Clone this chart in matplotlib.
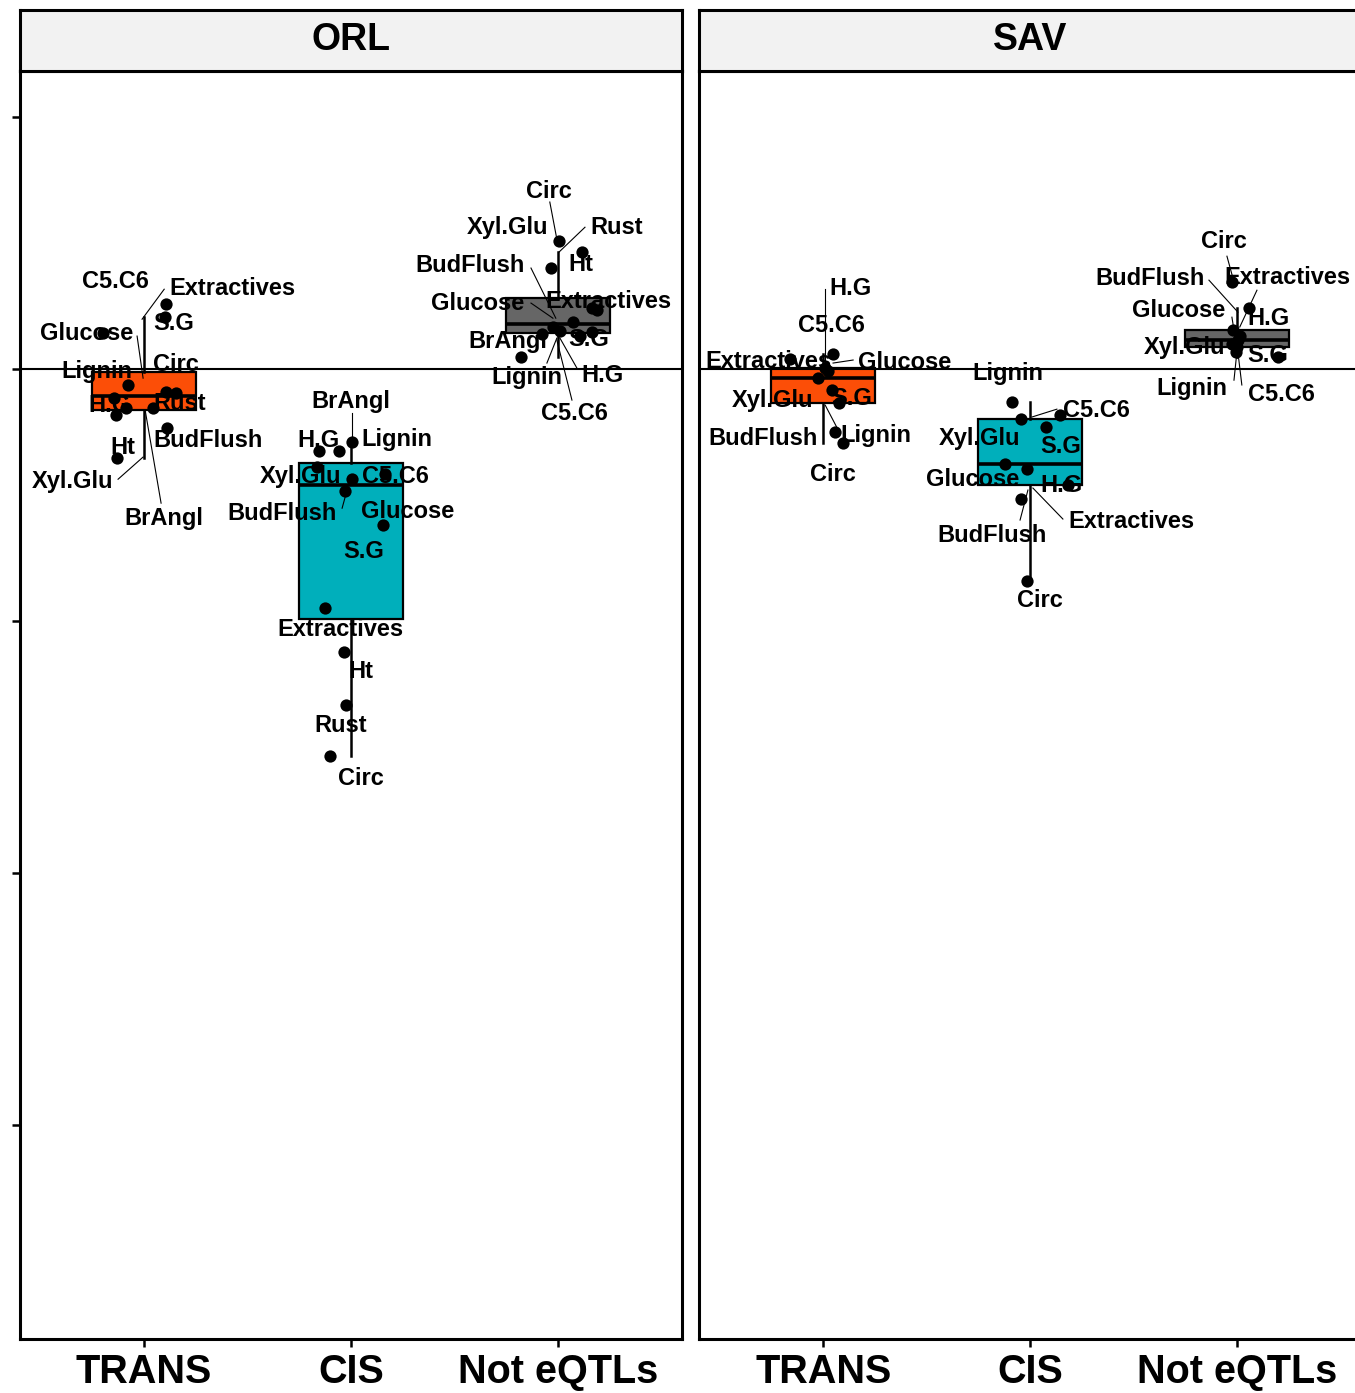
import numpy as np
import matplotlib
matplotlib.use("Agg")
import matplotlib.pyplot as plt

plt.rcParams['font.family'] = ['Liberation Sans', 'DejaVu Sans']

groups = ['TRANS', 'CIS', 'Not eQTLs']
group_colors = ['#FC4E07', '#00AFBB', '#666666']
panels = ['ORL', 'SAV']

# ---- ORL values (one per trait) and horizontal jitter of the dots ----
orl_trans_traits = ['Extractives', 'S.G', 'Glucose', 'Lignin', 'Circ', 'Rust',
                    'H.G', 'C5.C6', 'BrAngl', 'Xyl.Glu', 'BudFlush', 'Ht']
orl_trans_vals = [0.258, 0.206, 0.143, -0.063, -0.091, -0.095,
                  -0.115, -0.155, -0.155, -0.183, -0.234, -0.353]
orl_trans_jit = [0.106, 0.101, -0.198, -0.077, 0.106, 0.155,
                 -0.145, -0.087, 0.043, -0.135, 0.111, -0.130]

orl_cis_traits = ['Lignin', 'H.G', 'BrAngl', 'Xyl.Glu', 'C5.C6', 'S.G',
                  'BudFlush', 'Glucose', 'Extractives', 'Ht', 'Rust', 'Circ']
orl_cis_vals = [-0.290, -0.325, -0.325, -0.389, -0.417, -0.437,
                -0.484, -0.619, -0.948, -1.123, -1.333, -1.536]
orl_cis_jit = [0.005, -0.155, -0.058, -0.164, 0.164, 0.005,
               -0.029, 0.155, -0.126, -0.034, -0.024, -0.101]

orl_not_traits = ['Circ', 'Rust', 'BudFlush', 'Extractives', 'Ht', 'S.G',
                  'Glucose', 'Xyl.Glu', 'H.G', 'BrAngl', 'C5.C6', 'Lignin']
orl_not_vals = [0.508, 0.464, 0.401, 0.242, 0.234, 0.187,
                0.167, 0.151, 0.147, 0.139, 0.131, 0.048]
orl_not_jit = [0.005, 0.116, -0.034, 0.164, 0.188, 0.072,
               -0.024, 0.010, 0.164, -0.077, 0.106, -0.179]

# ---- SAV ----
sav_trans_traits = ['H.G', 'Extractives', 'C5.C6', 'Glucose', 'Xyl.Glu',
                    'S.G', 'BudFlush', 'Lignin', 'Circ']
sav_trans_vals = [0.060, 0.040, 0.004, -0.008, -0.036, -0.083, -0.135, -0.250, -0.294]
sav_trans_jit = [0.048, -0.159, 0.010, 0.024, -0.024, 0.043, 0.077, 0.058, 0.097]

sav_cis_traits = ['Lignin', 'C5.C6', 'Xyl.Glu', 'S.G', 'Glucose',
                  'Extractives', 'H.G', 'BudFlush', 'Circ']
sav_cis_vals = [-0.131, -0.183, -0.198, -0.230, -0.377, -0.397, -0.460, -0.516, -0.841]
sav_cis_jit = [-0.087, 0.145, -0.043, 0.077, -0.121, -0.014, 0.184, -0.043, -0.014]

sav_not_traits = ['Circ', 'Extractives', 'Glucose', 'H.G', 'BudFlush',
                  'Xyl.Glu', 'Lignin', 'C5.C6', 'S.G']
sav_not_vals = [0.345, 0.242, 0.155, 0.131, 0.115, 0.099, 0.087, 0.067, 0.048]
sav_not_jit = [-0.024, 0.058, -0.019, 0.014, 0.005, -0.024, 0.000, -0.005, 0.198]

data = {
    'ORL': [(orl_trans_traits, orl_trans_vals, orl_trans_jit),
            (orl_cis_traits, orl_cis_vals, orl_cis_jit),
            (orl_not_traits, orl_not_vals, orl_not_jit)],
    'SAV': [(sav_trans_traits, sav_trans_vals, sav_trans_jit),
            (sav_cis_traits, sav_cis_vals, sav_cis_jit),
            (sav_not_traits, sav_not_vals, sav_not_jit)],
}

# ---- label placement (repel-like layout): offset from group centre, y, optional segment ----
label_layout = {
    ('ORL', 0): {
        'C5.C6': (-0.140, 0.349, None),
        'Extractives': (0.425, 0.321, (0.097, 0.317, -0.010, 0.198)),
        'Glucose': (-0.280, 0.143, (-0.034, 0.131, -0.005, -0.036)),
        'S.G': (0.145, 0.179, None),
        'Lignin': (-0.227, -0.008, None),
        'Circ': (0.155, 0.020, None),
        'H.G': (-0.169, -0.143, None),
        'Rust': (0.174, -0.135, None),
        'BudFlush': (0.309, -0.282, None),
        'Ht': (-0.101, -0.313, None),
        'Xyl.Glu': (-0.348, -0.448, (-0.126, -0.437, -0.005, -0.349)),
        'BrAngl': (0.097, -0.591, (0.082, -0.532, 0.005, -0.163)),
    },
    ('ORL', 1): {
        'BrAngl': (0.000, -0.127, (0.005, -0.175, 0.005, -0.282)),
        'H.G': (-0.155, -0.282, None),
        'Lignin': (0.222, -0.278, None),
        'Xyl.Glu': (-0.246, -0.425, None),
        'C5.C6': (0.217, -0.425, None),
        'BudFlush': (-0.333, -0.575, (-0.043, -0.552, -0.019, -0.480)),
        'Glucose': (0.275, -0.567, None),
        'S.G': (0.063, -0.722, None),
        'Extractives': (-0.053, -1.032, None),
        'Ht': (0.048, -1.202, None),
        'Rust': (-0.048, -1.413, None),
        'Circ': (0.048, -1.623, None),
    },
    ('ORL', 2): {
        'Circ': (-0.043, 0.706, (-0.039, 0.663, -0.005, 0.516)),
        'Xyl.Glu': (-0.242, 0.563, None),
        'Rust': (0.285, 0.563, (0.131, 0.563, 0.005, 0.464)),
        'Ht': (0.111, 0.417, None),
        'BudFlush': (-0.425, 0.413, (-0.130, 0.401, -0.010, 0.202)),
        'Glucose': (-0.387, 0.262, (-0.130, 0.262, -0.024, 0.202)),
        'Extractives': (0.246, 0.270, None),
        'BrAngl': (-0.242, 0.111, None),
        'S.G': (0.150, 0.119, None),
        'Lignin': (-0.150, -0.032, (-0.053, 0.024, -0.005, 0.123)),
        'H.G': (0.217, -0.024, (0.092, 0.004, 0.010, 0.123)),
        'C5.C6': (0.082, -0.175, (0.068, -0.123, -0.005, 0.115)),
    },
    ('SAV', 0): {
        'H.G': (0.130, 0.321, (0.010, 0.317, 0.010, 0.028)),
        'C5.C6': (0.039, 0.175, None),
        'Extractives': (-0.266, 0.032, None),
        'Glucose': (0.396, 0.028, (0.145, 0.036, 0.048, 0.024)),
        'Xyl.Glu': (-0.246, -0.123, None),
        'S.G': (0.140, -0.115, None),
        'BudFlush': (-0.290, -0.274, None),
        'Lignin': (0.256, -0.262, (0.068, -0.234, 0.010, -0.143)),
        'Circ': (0.048, -0.417, None),
    },
    ('SAV', 1): {
        'Lignin': (-0.106, -0.016, None),
        'C5.C6': (0.319, -0.163, (0.130, -0.159, 0.010, -0.190)),
        'Xyl.Glu': (-0.246, -0.274, None),
        'S.G': (0.150, -0.306, None),
        'Glucose': (-0.275, -0.440, None),
        'H.G': (0.150, -0.460, None),
        'BudFlush': (-0.184, -0.659, (-0.048, -0.599, -0.010, -0.480)),
        'Extractives': (0.488, -0.603, (0.159, -0.595, 0.014, -0.472)),
        'Circ': (0.048, -0.917, None),
    },
    ('SAV', 2): {
        'Circ': (-0.063, 0.508, (-0.048, 0.448, -0.019, 0.361)),
        'BudFlush': (-0.420, 0.361, (-0.135, 0.353, 0.005, 0.226)),
        'Extractives': (0.246, 0.365, (0.097, 0.313, 0.014, 0.167)),
        'Glucose': (-0.280, 0.234, (-0.024, 0.206, -0.014, 0.155)),
        'H.G': (0.155, 0.202, None),
        'Xyl.Glu': (-0.251, 0.087, None),
        'S.G': (0.150, 0.052, None),
        'Lignin': (-0.217, -0.075, (-0.014, -0.044, 0.000, 0.067)),
        'C5.C6': (0.213, -0.099, (0.024, -0.063, 0.005, 0.067)),
    },
}

W, H = 1355, 1393
fig = plt.figure(figsize=(W / 100, H / 100), dpi=100)


def rect(x0, y0, x1, y1):
    return [x0 / W, 1 - y1 / H, (x1 - x0) / W, (y1 - y0) / H]


panel_px = {'ORL': (20, 71, 682, 1339), 'SAV': (699, 71, 1361, 1339)}

for p, panel in enumerate(panels):
    x0, y0, x1, y1 = panel_px[panel]
    ax = fig.add_axes(rect(x0, y0, x1, y1))
    sax = fig.add_axes(rect(x0, 10, x1, y0))

    # strip
    sax.set_facecolor('#F2F2F2')
    sax.set_xticks([])
    sax.set_yticks([])
    for s in sax.spines.values():
        s.set_linewidth(2.2)
    sax.text(0.5, 0.5, panel, ha='center', va='center', fontsize=27,
             fontweight='bold', transform=sax.transAxes)

    ax.set_xlim(0.4, 3.6)
    ax.set_ylim(-3.849, 1.183)
    ax.axhline(0, color='black', lw=1.5, zorder=1.5)

    vals = [g[1] for g in data[panel]]
    bp = ax.boxplot(vals, positions=[1, 2, 3], widths=0.5, patch_artist=True,
                    showfliers=False, showcaps=False, whis=1.5,
                    medianprops=dict(color='black', lw=2.6),
                    boxprops=dict(edgecolor='black', lw=1.6),
                    whiskerprops=dict(color='black', lw=1.8))
    for patch, c in zip(bp['boxes'], group_colors):
        patch.set_facecolor(c)
        patch.set_zorder(1)

    for gi, (traits, v, jit) in enumerate(data[panel]):
        cx = gi + 1
        ax.scatter(cx + np.array(jit), v, s=78, color='black', zorder=3,
                   linewidths=0)
        lay = label_layout[(panel, gi)]
        for name in traits:
            lx, ly, seg = lay[name]
            if seg is not None:
                ax.plot([cx + seg[0], cx + seg[2]], [seg[1], seg[3]],
                        color='black', lw=0.8, zorder=3.5)
            ax.text(cx + lx, ly, name, ha='center', va='center',
                    fontsize=17, fontweight='bold', zorder=4)

    for s in ax.spines.values():
        s.set_linewidth(2.2)
    ax.set_xticks([1, 2, 3])
    ax.set_xticklabels(groups, fontsize=28.5, fontweight='bold')
    ax.tick_params(axis='x', length=6, width=1.8, pad=4)
    if p == 0:
        ax.set_yticks([-3, -2, -1, 0, 1])
        ax.set_yticklabels([])
        ax.tick_params(axis='y', length=6, width=1.8)
    else:
        ax.set_yticks([])

fig.savefig('out.png', dpi=100)
